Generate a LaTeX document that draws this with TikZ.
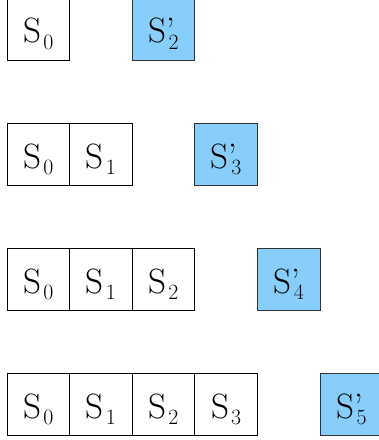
\documentclass[tikz,border=0pt]{standalone}
\usetikzlibrary{positioning}
\definecolor{stateblue}{RGB}{135,206,250}
\newcommand{\stlabel}[1]{S\kern1.4pt\raisebox{-4.5pt}{\fontsize{15.5}{15.5}\selectfont #1}}
\newcommand{\stnext}[1]{S\rlap{'}\kern1.8pt\raisebox{-4.5pt}{\fontsize{15.5}{15.5}\selectfont #1}}

\begin{document}
\begin{tikzpicture}[x=0.025cm,y=-0.025cm]
\useasboundingbox (0,0) rectangle (378,440);
\begin{scope}[every node/.style={font=\fontsize{25}{25}\selectfont, inner sep=0pt, anchor=base}]
\foreach \r in {0,...,3} {
  \pgfmathsetmacro{\ty}{125*\r-2}
  \foreach \c in {0,...,\r} {
    \draw [black, line width=0.7pt] (7+62.6*\c,\ty) rectangle (69.6+62.6*\c,\ty+62);
    \node (s\r\c) at (38.3+62.6*\c,\ty+45) {\stlabel{\c}};
  }
  \pgfmathtruncatemacro{\n}{\r+2}
  \fill [stateblue]  (7+62.6*\n,\ty) rectangle (69.6+62.6*\n,\ty+62);
  \draw [black!80, line width=0.7pt] (7+62.6*\n,\ty) rectangle (69.6+62.6*\n,\ty+62);
  \node (p\n) at (38.3+62.6*\n,\ty+45) {\stnext{\n}};
}
\end{scope}
\end{tikzpicture}
\end{document}
